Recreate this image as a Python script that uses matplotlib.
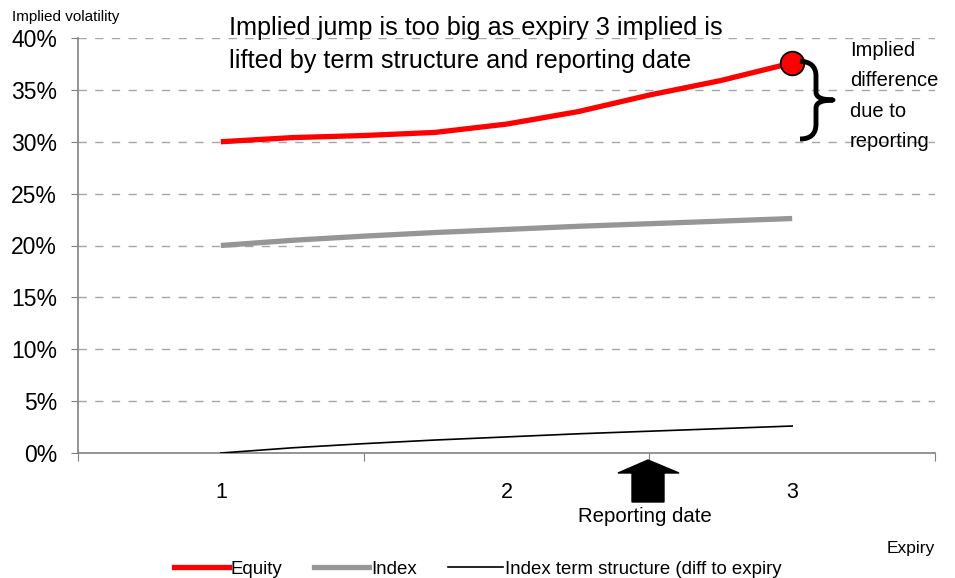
import matplotlib
matplotlib.use("Agg")
import matplotlib.pyplot as plt
from matplotlib.path import Path
from matplotlib.patches import PathPatch, Polygon
from matplotlib.lines import Line2D

plt.rcParams['font.family'] = ['Liberation Sans', 'DejaVu Sans']

# Data
expiry = [1.0, 1.25, 1.5, 1.75, 2.0, 2.25, 2.5, 2.75, 3.0]
equity = [0.300, 0.304, 0.306, 0.309, 0.317, 0.329, 0.345, 0.359, 0.376]
index_vol = [0.200, 0.205, 0.209, 0.2125, 0.2155, 0.2185, 0.221, 0.2235, 0.226]
term_structure = [0.000, 0.005, 0.009, 0.0125, 0.0155, 0.0185, 0.021, 0.0235, 0.026]
cat_labels = ['1', '2', '3']
cat_pos = [1, 2, 3]
ytick_vals = [0, 0.05, 0.10, 0.15, 0.20, 0.25, 0.30, 0.35, 0.40]
ytick_labels = ['0%', '5%', '10%', '15%', '20%', '25%', '30%', '35%', '40%']

W, H = 955, 578
fig = plt.figure(figsize=(W / 100, H / 100), dpi=100)
L, R, T, B = 78, 935, 38, 453
ax = fig.add_axes([L / W, 1 - B / H, (R - L) / W, (B - T) / H])
ax.set_xlim(0.5, 3.5)
ax.set_ylim(0, 0.40)

def px(x, y):
    """pixel -> data coords (for annotations only)"""
    return 0.5 + (x - L) / ((R - L) / 3.0), (B - y) / ((B - T) / 0.40)

# gridlines
for v in ytick_vals[1:]:
    ax.axhline(v, color='#a6a6a6', lw=1.0, ls=(0, (6, 6)), zorder=1)

ax.plot(expiry, equity, color='#ff0000', lw=3.8, zorder=4, solid_capstyle='butt')
ax.plot(expiry, index_vol, color='#969696', lw=3.8, zorder=3, solid_capstyle='butt')
ax.plot(expiry, term_structure, color='black', lw=1.2, zorder=3)
ax.plot([expiry[-1]], [equity[-1]], 'o', ms=17, mfc='#ff0000', mec='black', mew=1.3, zorder=5)

for s in ['top', 'right']:
    ax.spines[s].set_visible(False)
for s in ['left', 'bottom']:
    ax.spines[s].set_color('#808080')
    ax.spines[s].set_linewidth(1.2)

ax.set_yticks(ytick_vals)
ax.set_yticklabels(ytick_labels, fontsize=16.5)
ax.tick_params(axis='y', length=5, color='#808080', pad=10)
ax.set_xticks([0.5, 1.5, 2.5, 3.5])
ax.set_xticklabels(['', '', '', ''])
ax.tick_params(axis='x', which='major', length=6, color='#808080', direction='out')
ax.set_xticks(cat_pos, minor=True)
ax.set_xticklabels(cat_labels, minor=True, fontsize=15.5)
ax.tick_params(axis='x', which='minor', length=0, pad=21)

fig.text(12 / W, 1 - 17 / H, 'Implied volatility', fontsize=11, ha='left', va='center')
fig.text(229 / W, 1 - 28 / H, 'Implied jump is too big as expiry 3 implied is', fontsize=18.2, ha='left', va='center')
fig.text(229 / W, 1 - 61 / H, 'lifted by term structure and reporting date', fontsize=18.2, ha='left', va='center')
fig.text(850 / W, 1 - 96 / H, 'Implied\ndifference\ndue to\nreporting', fontsize=14.5, ha='left', va='center', linespacing=1.75)
fig.text(935 / W, 1 - 548 / H, 'Expiry', fontsize=12.5, ha='right', va='center')
fig.text(645 / W, 1 - 516 / H, 'Reporting date', fontsize=14.7, ha='center', va='center')

# curly brace
pts = [px(800, 61), px(816, 62), px(816, 76),
       px(816, 92), px(816, 100), px(833, 100),
       px(816, 100), px(816, 108),
       px(816, 124), px(816, 139), px(800, 139)]
codes = [Path.MOVETO, Path.CURVE3, Path.CURVE3,
         Path.LINETO, Path.CURVE3, Path.CURVE3,
         Path.CURVE3, Path.CURVE3,
         Path.LINETO, Path.CURVE3, Path.CURVE3]
ax.add_patch(PathPatch(Path(pts, codes), fill=False, lw=3.5, color='black', clip_on=False, zorder=6,
                       capstyle='butt', joinstyle='round'))

# block arrow for reporting date
arrow = [px(648, 460), px(618, 473), px(632, 473), px(632, 502), px(664, 502), px(664, 473), px(679, 473)]
ax.add_patch(Polygon(arrow, closed=True, color='black', clip_on=False, zorder=6))

handles = [Line2D([], [], color='#ff0000', lw=3.8),
           Line2D([], [], color='#969696', lw=3.8),
           Line2D([], [], color='black', lw=1.2)]
fig.legend(handles, ['Equity', 'Index', 'Index term structure (diff to expiry'],
           loc='center', bbox_to_anchor=(478 / W, 1 - 569 / H), ncol=3, frameon=False,
           fontsize=13.4, handlelength=2.95, handletextpad=0.1, columnspacing=1.7,
           borderpad=0, borderaxespad=0)

fig.savefig('out.png', dpi=100)
